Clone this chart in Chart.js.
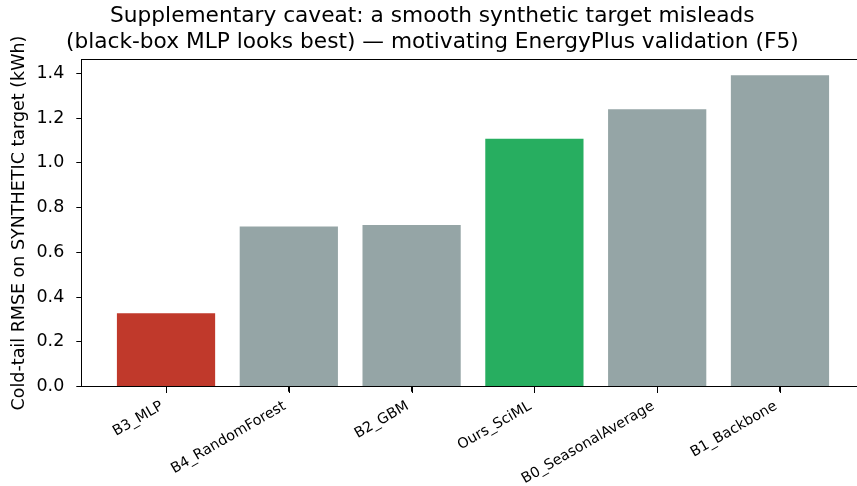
<!DOCTYPE html>
<html>
<head>
<meta charset="utf-8">
<script src="https://cdn.jsdelivr.net/npm/chart.js@4/dist/chart.umd.min.js"></script>
<style>
  html, body { margin:0; padding:0; background:#fff; overflow:hidden; }
  #wrap { width:857px; height:486px; overflow:hidden; }
</style>
</head>
<body>
<div id="wrap"><canvas id="rmseChart" width="870" height="486"></canvas></div>
<script>
// data
var models = ['B3_MLP', 'B4_RandomForest', 'B2_GBM', 'Ours_SciML', 'B0_SeasonalAverage', 'B1_Backbone'];
var rmse = [0.328, 0.716, 0.722, 1.108, 1.240, 1.392];
var barColors = ['#c0392b', '#95a5a6', '#95a5a6', '#27ae60', '#95a5a6', '#95a5a6'];
var yTicks = [0.0, 0.2, 0.4, 0.6, 0.8, 1.0, 1.2, 1.4];

var FONT = "'DejaVu Sans', sans-serif";

// matplotlib draws the full box around the axes, plus small tick marks under each bar
var frame = {
    id: 'frame',
    afterDraw: function(chart) {
        var a = chart.chartArea, ctx = chart.ctx, xs = chart.scales.x;
        ctx.save();
        ctx.strokeStyle = '#000';
        ctx.lineWidth = 1;
        ctx.strokeRect(Math.round(a.left) + 0.5, Math.round(a.top) + 0.5,
            Math.round(a.right - a.left), Math.round(a.bottom - a.top));
        ctx.beginPath();
        models.forEach(function(m, i) {
            var px = Math.round(xs.getPixelForValue(i)) + 0.5;
            ctx.moveTo(px, Math.round(a.bottom));
            ctx.lineTo(px, Math.round(a.bottom) + 6);
        });
        ctx.stroke();
        ctx.restore();
    }
};

var rmseChart = new Chart(document.getElementById('rmseChart'), {
    type: 'bar',
    plugins: [frame],
    data: {
        datasets: [{
            data: rmse.map(function(v, i) { return {x: i, y: v}; }),
            backgroundColor: barColors,
            borderWidth: 0,
            categoryPercentage: 1.0,
            barPercentage: 0.8
        }]
    },
    options: {
        responsive: false,
        animation: false,
        layout: { padding: { left: 0, right: 5.3, top: 0, bottom: 0 } },
        plugins: {
            legend: { display: false },
            tooltip: { enabled: false },
            title: {
                display: true,
                text: ['Supplementary caveat: a smooth synthetic target misleads',
                       '(black-box MLP looks best) \u2014 motivating EnergyPlus validation (F5)'],
                color: '#000',
                font: { family: FONT, size: 21.7, weight: 'normal', lineHeight: 1.2 },
                padding: { top: 3, bottom: 4.3 }
            }
        },
        scales: {
            x: {
                type: 'linear',
                min: -0.69,
                max: 5.69,
                offset: false,
                afterBuildTicks: function(s) {
                    s.ticks = models.map(function(m, i) { return {value: i}; });
                },
                afterFit: function(s) { s.height = 99.3; },
                grid: { offset: false, drawOnChartArea: false, drawTicks: true, tickLength: 5, color: '#000' },
                border: { display: true, color: '#000', width: 1 },
                ticks: {
                    autoSkip: false,
                    minRotation: 30,
                    maxRotation: 30,
                    padding: 6,
                    labelOffset: -4,
                    color: '#000',
                    font: { family: FONT, size: 14.4 },
                    callback: function(v) { return models[v]; }
                }
            },
            y: {
                min: 0,
                max: 1.4626,
                afterBuildTicks: function(s) {
                    s.ticks = yTicks.map(function(v) { return {value: v}; });
                },
                afterFit: function(s) { s.width = 81.3; },
                grid: { drawOnChartArea: false, drawTicks: true, tickLength: 5, color: '#000' },
                border: { display: true, color: '#000', width: 1 },
                ticks: {
                    padding: 12,
                    color: '#000',
                    font: { family: FONT, size: 17.5 },
                    callback: function(v) { return v.toFixed(1); }
                },
                title: {
                    display: true,
                    text: 'Cold-tail RMSE on SYNTHETIC target (kWh)',
                    color: '#000',
                    font: { family: FONT, size: 17.5 },
                    padding: { top: 9, bottom: 0 }
                }
            }
        }
    }
});
</script>
</body>
</html>
